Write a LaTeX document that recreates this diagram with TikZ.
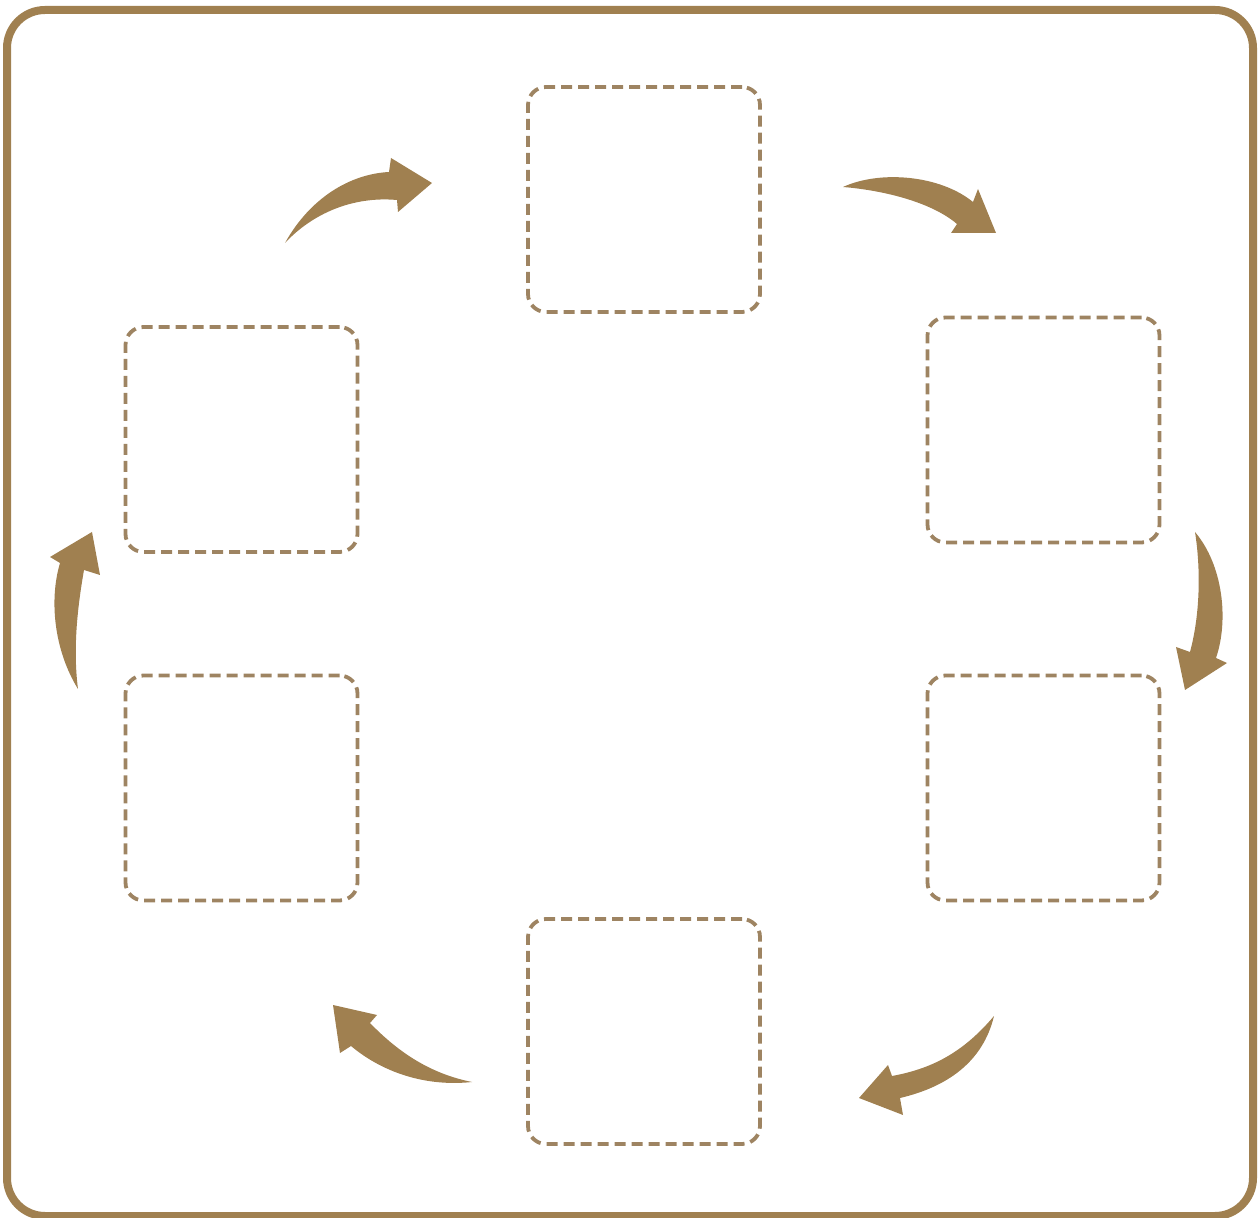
\documentclass[tikz,border=0pt]{standalone}
\begin{document}
\begin{tikzpicture}[x=0.5pt,y=-0.5pt,
  frame/.style={draw=brownc, line width=4pt, rounded corners=19pt},
  stepbox/.style={draw=boxc, line width=1.9pt, dash pattern=on 5.5pt off 3pt, rounded corners=9pt, minimum width=116pt, minimum height=112.5pt, inner sep=0pt},
  arrowfill/.style={fill=brownc, draw=none}]
\definecolor{brownc}{RGB}{160,128,80}
\definecolor{boxc}{RGB}{158,132,98}
\useasboundingbox (0,0) rectangle (1259,1218);
\draw[frame] (7,10) rectangle (1253,1216);
% boxes
\node[stepbox] (top) at (644,199.5) {};
\node[stepbox] (ru) at (1043.5,430) {};
\node[stepbox] (rl) at (1043.5,788) {};
\node[stepbox] (bot) at (644,1031.5) {};
\node[stepbox] (ll) at (241.5,788) {};
\node[stepbox] (lu) at (241.5,439.5) {};
% arrow 1: left-upper -> top
\fill[arrowfill] (285,243) .. controls (310,198) and (350,174) .. (389,172)
  -- (391,158) -- (432,183) -- (398,212) -- (397,200)
  .. controls (352,196) and (312,214) .. (285,243) -- cycle;
% arrow 2: top -> right-upper
\fill[arrowfill] (843,187) .. controls (880,170) and (940,175) .. (973,202)
  -- (978,189) -- (996,233) -- (951,233) -- (957,224)
  .. controls (930,201) and (880,190) .. (843,187) -- cycle;
% arrow 3: right-upper -> right-lower
\fill[arrowfill] (1195,532) .. controls (1223,565) and (1229,620) .. (1216,658)
  -- (1227,663) -- (1185,690) -- (1176,647) -- (1190,652)
  .. controls (1200,615) and (1201,570) .. (1195,532) -- cycle;
% arrow 4: left-lower -> left-upper
\fill[arrowfill] (78,689) .. controls (54,650) and (49,600) .. (60,563)
  -- (50,557) -- (92,532) -- (100,575) -- (84,570)
  .. controls (77,610) and (73,650) .. (78,689) -- cycle;
% arrow 5: bottom -> left-lower
\fill[arrowfill] (472,1082) .. controls (425,1087) and (382,1072) .. (351,1046)
  -- (340,1053) -- (333,1005) -- (377,1015) -- (370,1023)
  .. controls (400,1054) and (432,1074) .. (472,1082) -- cycle;
% arrow 6: right-lower -> bottom
\fill[arrowfill] (994,1016) .. controls (962,1054) and (930,1069) .. (892,1076)
  -- (888,1065) -- (859,1098) -- (903,1115) -- (900,1098)
  .. controls (947,1087) and (983,1062) .. (994,1016) -- cycle;
\end{tikzpicture}
\end{document}
